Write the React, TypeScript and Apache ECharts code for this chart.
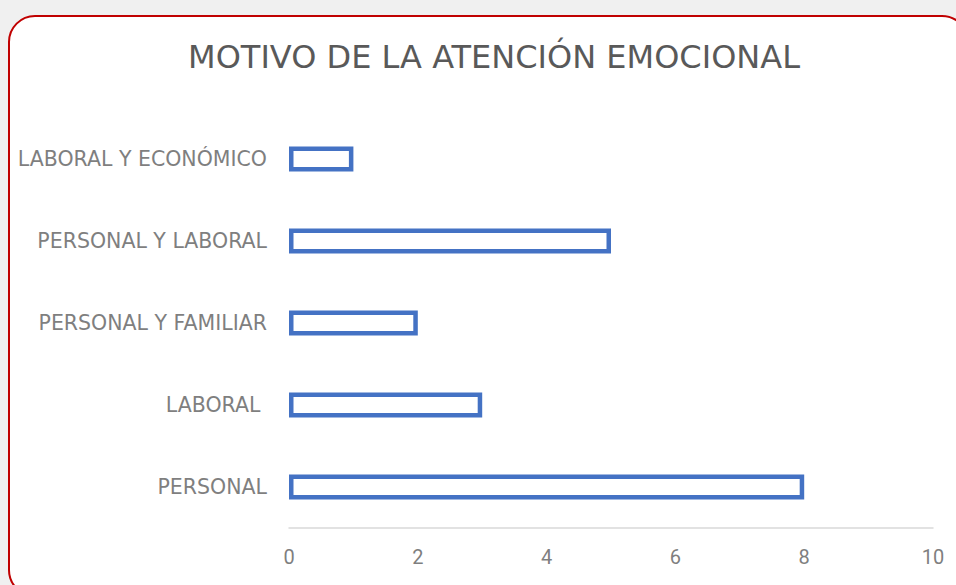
import React, { useEffect, useRef } from "react";
import * as echarts from "echarts";

const categories = [
  "PERSONAL",
  "LABORAL ",
  "PERSONAL Y FAMILIAR",
  "PERSONAL Y LABORAL",
  "LABORAL Y ECONÓMICO",
];
const values = [8, 3, 2, 5, 1];
const xTicks = { min: 0, max: 10, interval: 2 };
const title = "MOTIVO DE LA ATENCIÓN EMOCIONAL";

export default function App() {
  const ref = useRef<HTMLDivElement>(null);
  useEffect(() => {
    if (!ref.current) return;
    const chart = echarts.init(ref.current, undefined, { renderer: "svg" });
    chart.setOption({
      animation: false,
      backgroundColor: "#f0f0f0",
      graphic: [
        {
          type: "rect",
          z: -10,
          shape: { x: 9, y: 16, width: 959, height: 580, r: 26 },
          style: { fill: "#ffffff", stroke: "#c00000", lineWidth: 2 },
        },
      ],
      title: {
        text: title,
        left: 489,
        top: 36,
        textAlign: "center",
        textStyle: {
          fontFamily: "DejaVu Sans",
          fontSize: 32,
          fontWeight: "normal",
          color: "#595959",
        },
      },
      grid: { left: 289, right: 23, top: 118, bottom: 57 },
      xAxis: {
        type: "value",
        min: xTicks.min,
        max: xTicks.max,
        interval: xTicks.interval,
        axisLine: { show: true, lineStyle: { color: "#d9d9d9", width: 1.5 } },
        axisTick: { show: false },
        splitLine: { show: false },
        axisLabel: {
          color: "#7f7f7f",
          fontFamily: "Roboto",
          fontSize: 20,
          margin: 19,
        },
      },
      yAxis: {
        type: "category",
        data: categories,
        axisLine: { show: false },
        axisTick: { show: false },
        axisLabel: {
          color: "#7f7f7f",
          fontFamily: "DejaVu Sans",
          fontSize: 20.5,
          margin: 22,
        },
      },
      series: [
        {
          type: "bar",
          data: values,
          barWidth: 25,
          itemStyle: {
            color: "#ffffff",
            borderColor: "#4472c4",
            borderWidth: 4.5,
          },
        },
      ],
    });
    return () => chart.dispose();
  }, []);
  return (
    <div
      ref={ref}
      style={{ position: "absolute", left: 0, top: 0, width: 956, height: 585 }}
    />
  );
}
